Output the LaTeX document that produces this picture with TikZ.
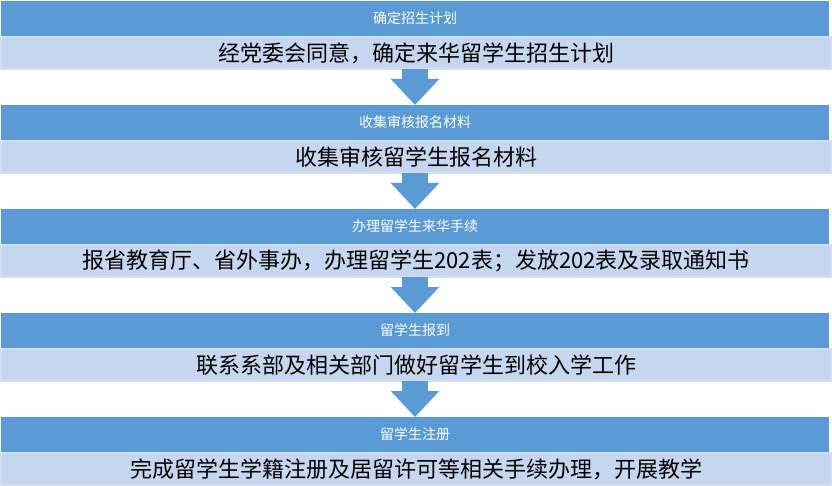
\documentclass[tikz,border=0pt]{standalone}
\usepackage{fontspec}
\newfontfamily\cjk{Noto Sans CJK SC}
\usetikzlibrary{arrows.meta}
\definecolor{hdrblue}{RGB}{91,155,213}
\definecolor{cntfill}{RGB}{198,214,238}
\definecolor{cntline}{RGB}{210,222,241}
\tikzset{
  hdr/.style={rectangle, fill=hdrblue, minimum width=828pt, minimum height=35pt, inner sep=0pt, outer sep=0pt, text=white, font=\cjk\fontsize{14pt}{16pt}\selectfont, anchor=north},
  cnt/.style={rectangle, fill=cntfill, draw=cntline, line width=2pt, minimum width=830pt, minimum height=32pt, inner sep=0pt, outer sep=0pt, text=black, font=\cjk\fontsize{22pt}{24pt}\selectfont, anchor=north},
  flow/.style={draw=hdrblue, line width=26pt, -{Triangle[width=47pt,length=26pt]}, shorten >=0pt}
}
\begin{document}
\begin{tikzpicture}
\useasboundingbox (0pt,0pt) rectangle (832pt,-486pt);
\fill[white] (0pt,0pt) rectangle (832pt,-486pt);
\node[hdr] (h1) at (415pt,-1pt) {确定招生计划};
\node[cnt] (c1) at (416pt,-37pt) {经党委会同意，确定来华留学生招生计划};
\node[hdr] (h2) at (415pt,-105pt) {收集审核报名材料};
\node[cnt] (c2) at (416pt,-141pt) {收集审核留学生报名材料};
\node[hdr] (h3) at (415pt,-209pt) {办理留学生来华手续};
\node[cnt] (c3) at (416pt,-245pt) {报省教育厅、省外事办，办理留学生202表；发放202表及录取通知书};
\node[hdr] (h4) at (415pt,-313pt) {留学生报到};
\node[cnt] (c4) at (416pt,-349pt) {联系系部及相关部门做好留学生到校入学工作};
\node[hdr] (h5) at (415pt,-417pt) {留学生注册};
\node[cnt] (c5) at (416pt,-453pt) {完成留学生学籍注册及居留许可等相关手续办理，开展教学};
\draw[flow] (c1.south -| h2.north) -- (h2.north);
\draw[flow] (c2.south -| h3.north) -- (h3.north);
\draw[flow] (c3.south -| h4.north) -- (h4.north);
\draw[flow] (c4.south -| h5.north) -- (h5.north);
\end{tikzpicture}
\end{document}
